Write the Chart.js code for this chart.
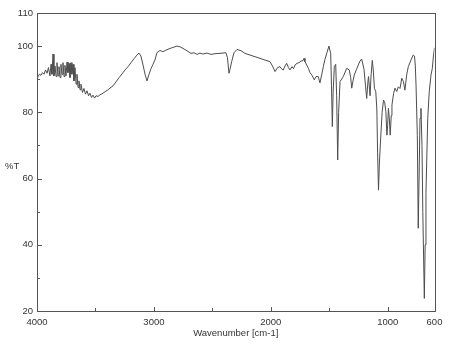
<!DOCTYPE html>
<html>
<head>
<meta charset="utf-8">
<script src="https://cdn.jsdelivr.net/npm/chart.js@4/dist/chart.umd.min.js"></script>
<style>
html,body{margin:0;padding:0;background:#fff;}
#wrap{width:458px;height:353px;position:relative;}
</style>
</head>
<body>
<div id="wrap"><canvas id="c" width="458" height="353"></canvas></div>
<script>
// ---- data ----
const wavenumbers = [4000,3991,3979,3966,3953,3940,3927,3914,3902,3889,3880,3872,3863,3855,3846,3837,3829,3820,3812,3803,3795,3786,3778,3769,3761,3752,3743,3735,3726,3718,3709,3701,3692,3684,3675,3666,3658,3649,3641,3632,3624,3611,3598,3585,3572,3559,3547,3534,3521,3508,3495,3478,3461,3444,3427,3410,3393,3376,3350,3324,3298,3273,3247,3221,3196,3170,3145,3128,3111,3093,3076,3059,3042,3025,3008,2991,2974,2948,2923,2897,2862,2837,2803,2777,2751,2717,2683,2657,2631,2606,2580,2546,2512,2478,2443,2409,2384,2371,2358,2349,2335,2315,2289,2255,2221,2178,2135,2093,2050,2007,1986,1964,1943,1922,1905,1893,1879,1864,1849,1836,1819,1806,1793,1776,1759,1742,1725,1716,1708,1693,1679,1665,1648,1628,1613,1594,1580,1565,1551,1537,1520,1503,1488,1481,1474,1467,1457,1445,1437,1428,1420,1408,1380,1351,1329,1317,1308,1297,1286,1267,1252,1237,1223,1203,1190,1180,1169,1164,1155,1151,1143,1132,1123,1114,1102,1093,1087,1079,1071,1059,1048,1036,1026,1016,1007,1001,994,986,979,970,964,950,938,923,909,895,880,866,853,838,824,801,782,771,764,758,747,739,731,724,716,707,700,687,680,673,658,645,630,619,609,600];
const transmittance = [90.0,90.8,91.5,91.2,92.0,91.5,92.8,91.8,93.5,91.0,94.5,91.5,97.6,91.0,94.0,90.8,95.0,91.0,93.8,90.5,94.5,91.5,95.0,90.8,94.2,91.0,95.2,92.0,94.8,90.5,95.0,91.5,94.5,89.5,93.5,88.5,91.5,87.5,89.5,86.8,88.5,86.0,87.2,85.5,86.5,85.0,85.8,84.5,85.2,84.3,85.0,84.8,85.3,85.6,86.0,86.4,86.8,87.3,88.0,89.2,90.5,91.6,92.8,93.8,95.0,96.2,97.3,97.9,97.0,94.3,91.5,89.5,91.5,93.2,94.5,95.8,98.0,98.7,98.3,98.8,99.3,99.6,100.0,99.8,99.3,98.6,97.8,98.0,97.5,97.9,97.6,97.9,97.5,97.7,97.8,97.9,98.0,96.5,91.8,93.0,95.3,98.0,99.0,98.6,97.8,97.3,96.8,96.3,95.8,95.3,94.0,92.3,93.5,93.8,93.0,92.8,94.0,94.8,93.5,92.8,93.8,93.2,94.3,94.8,95.0,95.5,95.6,96.3,95.3,94.3,93.3,92.0,91.2,89.8,90.8,90.8,88.9,91.3,93.8,96.0,98.0,100.0,97.8,88.0,75.7,86.0,93.8,94.5,85.0,65.6,80.0,89.3,90.8,93.3,92.8,90.5,87.3,89.5,91.3,93.0,94.3,95.5,96.1,93.0,88.0,84.2,89.5,90.8,86.5,85.0,91.0,95.7,92.5,87.3,86.2,80.7,68.0,56.5,65.0,73.1,80.0,83.7,83.0,80.2,73.1,76.0,81.2,78.0,73.1,79.0,82.2,85.7,87.3,86.3,87.7,87.2,90.3,89.3,86.7,91.3,93.8,95.8,97.3,97.0,94.0,88.3,73.1,45.0,62.0,78.2,81.2,70.0,50.0,23.8,40.0,55.5,78.2,86.2,91.3,93.2,97.0,99.5];
const xTickValues = [4000,3500,3000,2500,2000,1500,1000,600];
const xLabeledTicks = [4000,3000,2000,1000,600];
const yTickValues = [20,30,40,50,60,70,80,90,100,110];
const yLabeledTicks = [20,40,60,80,100,110];
const xTitle = 'Wavenumber [cm-1]';
const yTitle = '%T';

const points = wavenumbers.map((w,i)=>({x:w,y:transmittance[i]}));
const FONT = 'Liberation Sans, Arial, sans-serif';
const AXIS = '#555';

const frameTicks = {
  id:'frameTicks',
  afterDraw(chart){
    const ctx = chart.ctx, a = chart.chartArea;
    const xs = chart.scales.x, ys = chart.scales.y;
    ctx.save();
    ctx.strokeStyle = AXIS; ctx.lineWidth = 1;
    ctx.strokeRect(Math.round(a.left)+0.5, Math.round(a.top)+0.5, Math.round(a.right-a.left), Math.round(a.bottom-a.top));
    ctx.beginPath();
    xTickValues.forEach(v=>{
      const px = Math.round(xs.getPixelForValue(v))+0.5;
      const len = xLabeledTicks.includes(v) ? 4 : 3;
      ctx.moveTo(px, a.bottom); ctx.lineTo(px, a.bottom-len);
    });
    yTickValues.forEach(v=>{
      const py = Math.round(ys.getPixelForValue(v))+0.5;
      const len = yLabeledTicks.includes(v) ? 5 : 3;
      ctx.moveTo(a.left, py); ctx.lineTo(a.left+len, py);
    });
    ctx.stroke();
    ctx.fillStyle = '#333';
    ctx.font = '9.5px ' + FONT;
    ctx.textAlign = 'left'; ctx.textBaseline = 'middle';
    ctx.fillText(yTitle, 5, (a.top+a.bottom)/2 + 4);
    ctx.restore();
  }
};

new Chart(document.getElementById('c'), {
  type:'scatter',
  data:{datasets:[{data:points, showLine:true, borderColor:'#4d4d4d', borderWidth:1, pointRadius:0, tension:0, fill:false}]},
  options:{
    responsive:false, animation:false, devicePixelRatio:1,
    layout:{padding:{left:0, top:13, right:23.5, bottom:0}},
    plugins:{legend:{display:false}, tooltip:{enabled:false}},
    scales:{
      x:{type:'linear', min:600, max:4000, reverse:true,
        afterBuildTicks(s){ s.ticks = xTickValues.map(v=>({value:v})); },
        afterFit(s){ s.height = 42; },
        grid:{display:false, drawTicks:false}, border:{display:false},
        ticks:{autoSkip:false, maxRotation:0, padding:6, color:'#333', font:{family:FONT, size:9.5},
          callback(v){ return xLabeledTicks.includes(v) ? String(v) : ''; }},
        title:{display:true, text:xTitle, color:'#333', font:{family:FONT, size:9.5}, padding:{top:0,bottom:14}}
      },
      y:{type:'linear', min:20, max:110,
        afterBuildTicks(s){ s.ticks = yTickValues.map(v=>({value:v})); },
        afterFit(s){ s.width = 37; },
        grid:{display:false, drawTicks:false}, border:{display:false},
        ticks:{autoSkip:false, padding:4, color:'#333', font:{family:FONT, size:9.5},
          callback(v){ return yLabeledTicks.includes(v) ? String(v) : ''; }}
      }
    }
  },
  plugins:[frameTicks]
});
</script>
</body>
</html>
